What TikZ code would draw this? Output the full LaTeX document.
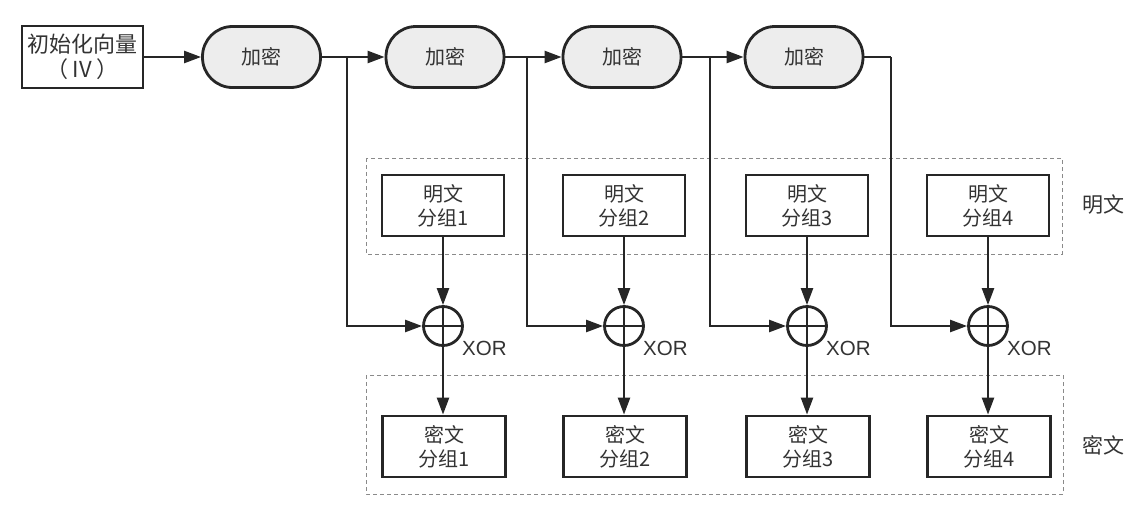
\documentclass[tikz,border=0pt]{standalone}
\usepackage{fontspec}
\setmainfont{Liberation Sans}
\newfontfamily\cjk{Noto Sans CJK SC}
\usetikzlibrary{arrows.meta}
\definecolor{ink}{HTML}{262626}
\definecolor{txt}{HTML}{333333}
\definecolor{encfill}{HTML}{EDEDED}
\definecolor{dashgray}{HTML}{8A8A8A}
\tikzset{
 line/.style={draw=ink, line width=2.4pt},
 arr/.style={line, -{Triangle[length=17pt,width=12pt]}},
 blockbox/.style={draw=ink, line width=2.8pt, minimum width=122pt, minimum height=61pt, inner sep=0pt, align=center, font=\cjk\fontsize{20}{24}\selectfont, text=txt},
 encbox/.style={blockbox, fill=encfill, rounded corners=30pt, minimum width=118pt},
 xorc/.style={circle, draw=ink, line width=2.8pt, minimum size=39pt, inner sep=0pt,
   path picture={\draw[ink, line width=2.4pt] (path picture bounding box.north) -- (path picture bounding box.south) (path picture bounding box.west) -- (path picture bounding box.east);}},
 group/.style={draw=dashgray, dash pattern=on 4pt off 3pt, line width=0.9pt},
 xorlbl/.style={font=\fontsize{20.5}{24}\selectfont, text=txt, anchor=base west, inner sep=0pt},
 side/.style={font=\cjk\fontsize{21}{24}\selectfont, text=txt}
}
\begin{document}
\begin{tikzpicture}[x=1pt,y=-1pt]
\useasboundingbox (0,0) rectangle (1140,509);
% groups
\draw[group] (366,158) rectangle (1062,254);
\draw[group] (366,375) rectangle (1063,494);
\node[side] (lp) at (1103,205) {明文};
\node[side] (lc) at (1103,445) {密文};
% IV
\node[blockbox, minimum width=121pt, minimum height=62pt, font=\cjk\fontsize{22}{25}\selectfont] (iv) at (82.5,57) {初始化向量\\（ IV ）};
% encrypt
\node[encbox] (e1) at (261.5,57) {加密};
\node[encbox] (e2) at (445,57) {加密};
\node[encbox] (e3) at (622,57) {加密};
\node[encbox] (e4) at (804,57) {加密};
% plaintext
\node[blockbox] (p1) at (443,205.5) {明文\\分组1};
\node[blockbox] (p2) at (624,205.5) {明文\\分组2};
\node[blockbox] (p3) at (807,205.5) {明文\\分组3};
\node[blockbox] (p4) at (988,205.5) {明文\\分组4};
% xor
\node[xorc] (x1) at (443,326) {};
\node[xorc] (x2) at (624,326) {};
\node[xorc] (x3) at (807,326) {};
\node[xorc] (x4) at (988,326) {};
\node[xorlbl] (l1) at (462,355) {XOR};
\node[xorlbl] (l2) at (643,355) {XOR};
\node[xorlbl] (l3) at (826,355) {XOR};
\node[xorlbl] (l4) at (1007,355) {XOR};
% ciphertext
\node[blockbox, minimum width=123pt] (c1) at (444,446.5) {密文\\分组1};
\node[blockbox, minimum width=123pt] (c2) at (625,446.5) {密文\\分组2};
\node[blockbox, minimum width=123pt] (c3) at (808,446.5) {密文\\分组3};
\node[blockbox, minimum width=123pt] (c4) at (989,446.5) {密文\\分组4};
% junctions
\coordinate (j1) at (347,57);
\coordinate (j2) at (527,57);
\coordinate (j3) at (710,57);
\coordinate (j4) at (891,57);
% connectors
\draw[arr] (iv.east) -- (e1.west);
\draw[arr] (e1.east) -- (e2.west);
\draw[arr] (e2.east) -- (e3.west);
\draw[arr] (e3.east) -- (e4.west);
\draw[line] (e4.east) -- (j4);
\draw[arr] (j1) |- (x1.west);
\draw[arr] (j2) |- (x2.west);
\draw[arr] (j3) |- (x3.west);
\draw[arr] (j4) |- (x4.west);
\draw[arr] (p1.south) -- (x1.north);
\draw[arr] (p2.south) -- (x2.north);
\draw[arr] (p3.south) -- (x3.north);
\draw[arr] (p4.south) -- (x4.north);
\draw[arr] (x1.south) -- (x1.south |- c1.north);
\draw[arr] (x2.south) -- (x2.south |- c2.north);
\draw[arr] (x3.south) -- (x3.south |- c3.north);
\draw[arr] (x4.south) -- (x4.south |- c4.north);
\end{tikzpicture}
\end{document}
